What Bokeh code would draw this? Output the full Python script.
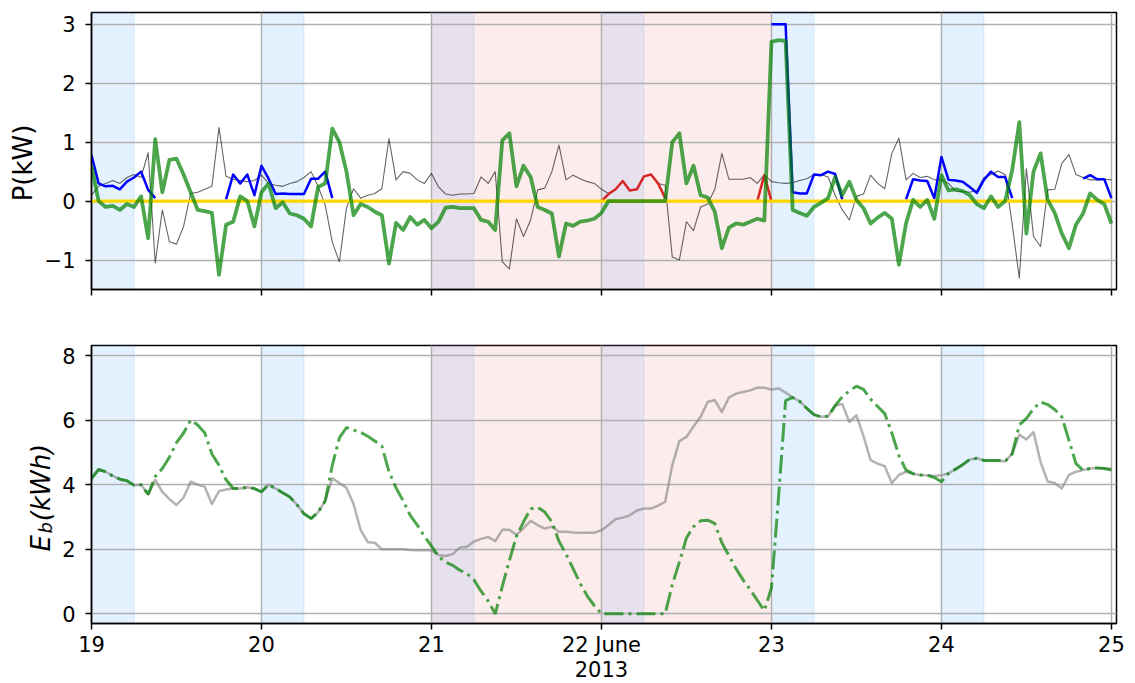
import math
from datetime import datetime, timedelta

from bokeh.plotting import figure
from bokeh.layouts import column, row
from bokeh.models import Range1d, FixedTicker, BoxAnnotation
from bokeh.core.properties import value
from bokeh.embed import file_html
from bokeh.resources import INLINE

nan = float("nan")
START = datetime(2013, 6, 19)
EPOCH = datetime(1970, 1, 1)


def to_ms(dt):
    return (dt - EPOCH).total_seconds() * 1000.0


# ---------------- data (hourly, 19 June 00:00 .. 25 June 00:00) ----------------
times = [START + timedelta(hours=h) for h in range(145)]

# thin dark line: household net load [kW]
load_kw = (
    [0.1, 0.25, 0.3, 0.35, 0.3, 0.4, 0.45, 0.4, 0.82, -1.05, -0.15, -0.69, -0.73, -0.43, 0.13, 0.15, 0.2, 0.25, 1.25, 0.42, 0.37, 0.35, 0.33, 0.35]
    + [0.44, 0.3, 0.27, 0.25, 0.3, 0.33, 0.4, 0.5, 0.25, -0.07, -0.7, -1.03, -0.12, 0.21, 0.05, 0.1, 0.13, 0.21, 1.06, 0.36, 0.5, 0.47, 0.36, 0.3]
    + [0.47, 0.24, 0.12, 0.1, 0.12, 0.12, 0.13, 0.41, 0.3, 0.5, -1.03, -1.15, -0.3, -0.6, -0.32, 0.19, 0.22, 0.5, 0.95, 0.36, 0.44, 0.38, 0.33, 0.3]
    + [0.2, 0.13, 0.2, 0.34, 0.18, 0.2, 0.42, 0.45, 0.3, 0.27, -0.95, -1.0, -0.35, -0.5, -0.1, -0.05, 0.2, 0.81, 0.37, 0.37, 0.37, 0.4, 0.3, 0.45]
    + [0.33, 0.31, 0.3, 0.31, 0.35, 0.38, 0.45, 0.45, 0.41, 0.1, -0.15, -0.32, 0.08, 0.12, 0.44, 0.3, 0.21, 0.81, 1.07, 0.36, 0.47, 0.4, 0.42, 0.36]
    + [0.36, 0.3, 0.17, 0.16, 0.15, 0.18, 0.4, 0.45, 0.51, 0.45, -0.4, -1.31, 0.55, -0.6, -0.77, 0.19, 0.2, 0.64, 0.79, 0.45, 0.4, 0.36, 0.36, 0.37]
    + [0.36]
)

# blue: battery charging power [kW]
charge_kw = (
    [0.78, 0.3, 0.25, 0.26, 0.2, 0.33, 0.4, 0.5, 0.19, 0.05] + [nan] * 9 + [0.03, 0.45, 0.3, 0.45, 0.1]
    + [0.6, 0.38, 0.12, 0.13, 0.12, 0.12, 0.12, 0.38, 0.38, 0.5, 0.05] + [nan] * 13
    + [nan] * 24
    + [nan] * 24
    + [3.0, 3.0, 3.0, 0.15, 0.13, 0.13, 0.45, 0.44, 0.5, 0.46, 0.03] + [nan] * 8 + [0.03, 0.37, 0.35, 0.34, 0.05]
    + [0.75, 0.36, 0.35, 0.33, 0.24, 0.14, 0.36, 0.5, 0.41, 0.41, 0.05] + [nan] * 9 + [0.38, 0.44, 0.37, 0.37]
    + [0.05]
)

# red: battery discharging power [kW]
discharge_kw = (
    [nan] * 72
    + [0.0, 0.12, 0.2, 0.34, 0.18, 0.2, 0.42, 0.45, 0.3, 0.05] + [nan] * 12 + [0.0, 0.44]
    + [0.0] + [nan] * 23
    + [nan] * 24
    + [nan]
)

# green: grid power [kW]
grid_kw = (
    [0.6, 0.0, -0.1, -0.08, -0.15, -0.05, -0.1, 0.08, -0.63, 1.05, 0.15, 0.7, 0.72, 0.45, 0.15, -0.15, -0.17, -0.2, -1.25, -0.4, -0.35, 0.08, 0.0, -0.43]
    + [0.15, 0.3, -0.12, -0.02, -0.21, -0.24, -0.3, -0.43, 0.24, 0.3, 1.23, 1.0, 0.5, -0.24, -0.05, -0.1, -0.18, -0.24, -1.06, -0.37, -0.49, -0.27, -0.4, -0.32]
    + [-0.46, -0.35, -0.11, -0.1, -0.12, -0.12, -0.12, -0.32, -0.35, -0.49, 1.03, 1.15, 0.25, 0.6, 0.41, -0.1, -0.15, -0.21, -0.94, -0.38, -0.42, -0.35, -0.33, -0.3]
    + [-0.2, 0.0, 0.0, 0.0, 0.0, 0.0, 0.0, 0.0, 0.0, 0.0, 1.0, 1.15, 0.3, 0.6, 0.1, 0.06, -0.18, -0.8, -0.45, -0.38, -0.4, -0.35, -0.3, -0.33]
    + [2.7, 2.73, 2.72, -0.15, -0.2, -0.25, -0.1, -0.03, 0.05, 0.41, 0.1, 0.33, 0.02, -0.12, -0.38, -0.28, -0.2, -0.3, -1.08, -0.38, 0.02, -0.1, 0.02, -0.3]
    + [0.44, 0.18, 0.2, 0.17, 0.1, -0.05, -0.12, 0.08, -0.1, 0.0, 0.53, 1.34, -0.55, 0.5, 0.81, 0.02, -0.2, -0.55, -0.8, -0.4, -0.21, 0.13, 0.02, -0.05]
    + [-0.38]
)

# yellow: PV power [kW] (zero during the whole period)
pv_kw = [0.0] * len(times)

# grey: battery energy, reference strategy [kWh]
energy_ref = (
    [4.19, 4.47, 4.4, 4.27, 4.17, 4.12, 3.98, 4.0, 3.7, 4.15, 3.78, 3.55, 3.37, 3.6, 4.09, 4.0, 3.93, 3.4, 3.8, 3.85, 3.88, 3.88, 3.92, 3.88]
    + [3.78, 4.0, 3.88, 3.75, 3.62, 3.38, 3.1, 2.95, 3.15, 3.5, 4.2, 4.05, 3.9, 3.4, 2.6, 2.22, 2.2, 2.0, 2.0, 2.0, 2.0, 1.98, 1.97, 1.97]
    + [1.97, 1.82, 1.79, 1.85, 2.05, 2.08, 2.24, 2.32, 2.38, 2.25, 2.6, 2.6, 2.45, 2.65, 2.88, 2.75, 2.64, 2.7, 2.54, 2.54, 2.52, 2.51, 2.51, 2.51]
    + [2.59, 2.75, 2.93, 2.98, 3.05, 3.2, 3.26, 3.26, 3.35, 3.47, 4.6, 5.35, 5.48, 5.8, 6.1, 6.56, 6.62, 6.25, 6.7, 6.82, 6.87, 6.92, 7.0, 7.0]
    + [6.95, 6.98, 6.85, 6.7, 6.58, 6.36, 6.17, 6.1, 6.12, 6.45, 6.5, 5.94, 6.15, 5.5, 4.76, 4.65, 4.57, 4.05, 4.3, 4.4, 4.34, 4.3, 4.29, 4.27]
    + [4.29, 4.35, 4.48, 4.62, 4.78, 4.82, 4.75, 4.75, 4.75, 4.72, 4.96, 5.55, 5.4, 5.63, 4.7, 4.1, 4.05, 3.88, 4.3, 4.4, 4.45, 4.5, 4.52, 4.5]
    + [4.5]
)

# green dash-dot: battery energy, optimised strategy [kWh]
energy_opt = (
    [4.19, 4.47, 4.4, 4.27, 4.17, 4.12, 3.98, 4.0, 3.7, 4.25, 4.5, 4.85, 5.3, 5.6, 6.0, 5.85, 5.6, 4.95, 4.6, 4.15, 3.88, 3.88, 3.92, 3.88]
    + [3.78, 4.0, 3.88, 3.75, 3.62, 3.38, 3.1, 2.95, 3.15, 3.5, 4.6, 5.45, 5.77, 5.69, 5.62, 5.5, 5.35, 5.2, 4.4, 3.9, 3.5, 3.05, 2.75, 2.4]
    + [2.1, 1.78, 1.6, 1.5, 1.35, 1.25, 1.05, 0.7, 0.4, 0.0, 0.85, 1.65, 2.4, 2.85, 3.25, 3.3, 3.15, 2.85, 2.25, 1.85, 1.4, 0.94, 0.55, 0.25]
    + [0.0, 0.0, 0.0, 0.0, 0.0, 0.0, 0.0, 0.0, 0.0, 0.0, 0.9, 1.6, 2.35, 2.7, 2.88, 2.9, 2.8, 2.2, 1.8, 1.4, 1.05, 0.75, 0.42, 0.1]
    + [0.8, 3.6, 6.6, 6.7, 6.58, 6.36, 6.17, 6.1, 6.12, 6.45, 6.72, 6.9, 7.05, 6.95, 6.65, 6.42, 6.2, 5.6, 4.9, 4.45, 4.34, 4.3, 4.29, 4.22]
    + [4.09, 4.35, 4.48, 4.62, 4.78, 4.82, 4.75, 4.75, 4.75, 4.72, 4.96, 5.85, 6.05, 6.35, 6.56, 6.48, 6.33, 6.1, 5.38, 4.65, 4.45, 4.5, 4.52, 4.5]
    + [4.45]
)

day_ticks = [to_ms(START + timedelta(days=d)) for d in range(7)]
day_labels = ["19", "20", "21", "22 June\n2013", "23", "24", "25"]
night_days = [19, 20, 21, 22, 23, 24]          # off-peak windows 00:00-06:00
night_hours = (0, 6)
peak_period = (datetime(2013, 6, 21), datetime(2013, 6, 23))
p_ticks = [-1, 0, 1, 2, 3]
e_ticks = [0, 2, 4, 6, 8]
P_RANGE = (-1.5, 3.2)
E_RANGE = (-0.3, 8.31)

# ---------------- layout / styling ----------------
FONT = "DejaVu Sans"
X_START = START
X_END = START + timedelta(days=6.03)
FRAME_W = 1025
TOP_H1, FRAME_H1, BOT_H1 = 12, 277, 45      # top panel
H1 = TOP_H1 + FRAME_H1 + BOT_H1
TOP_H2, FRAME_H2, BOT_H2 = 345 - H1, 278, 60  # bottom panel
H2 = TOP_H2 + FRAME_H2 + BOT_H2
LEFT1, LEFT2 = 40, 58                         # widths of the y-label strips


def base_fig(yr, yticks, frame_h, top, bottom, left):
    p = figure(x_axis_type="datetime", title=None, frame_width=FRAME_W, frame_height=frame_h,
               x_range=Range1d(to_ms(X_START), to_ms(X_END)), y_range=Range1d(*yr),
               output_backend="svg", toolbar_location=None,
               min_border_left=91 - left, min_border_right=12,
               min_border_top=top, min_border_bottom=bottom)
    p.outline_line_color = "black"
    p.outline_line_width = 1.5
    p.outline_line_alpha = 1.0
    p.background_fill_color = "white"
    p.border_fill_color = "white"
    p.xaxis.ticker = FixedTicker(ticks=day_ticks, minor_ticks=[])
    p.yaxis.ticker = FixedTicker(ticks=yticks, minor_ticks=[])
    for ax in (p.xaxis[0], p.yaxis[0]):
        ax.axis_line_color = "black"
        ax.axis_line_width = 1.5
        ax.major_tick_line_color = "black"
        ax.major_tick_line_width = 1.5
        ax.major_tick_out = 6
        ax.major_tick_in = 0
        ax.minor_tick_line_color = None
        ax.major_label_text_font = FONT
        ax.major_label_text_font_size = "21px"
        ax.major_label_text_color = "black"
    p.yaxis.major_label_standoff = 10
    p.xaxis.major_label_standoff = 3
    p.xaxis.major_label_text_line_height = 1.05
    p.yaxis.major_label_overrides = {t: str(t).replace("-", "\u2212") for t in yticks}
    for g in (p.xgrid[0], p.ygrid[0]):
        g.grid_line_color = "#b0b0b0"
        g.grid_line_width = 1.5
    for d in night_days:
        p.add_layout(BoxAnnotation(
            left=to_ms(datetime(2013, 6, d, night_hours[0])),
            right=to_ms(datetime(2013, 6, d, night_hours[1])),
            fill_color="#1e90ff", fill_alpha=0.12,
            line_color="#1e90ff", line_alpha=0.15, line_width=1, level="image"))
    p.add_layout(BoxAnnotation(
        left=to_ms(peak_period[0]), right=to_ms(peak_period[1]),
        fill_color="#f08080", fill_alpha=0.15,
        line_color="#f08080", line_alpha=0.2, line_width=1, level="image"))
    return p


def label_strip(w, h):
    f = figure(frame_width=w, frame_height=h, x_range=Range1d(0, w), y_range=Range1d(h, 0),
               output_backend="svg", toolbar_location=None, title=None, min_border=0,
               x_axis_location=None, y_axis_location=None)
    f.grid.visible = False
    f.outline_line_color = None
    f.background_fill_color = "white"
    f.border_fill_color = "white"
    return f


# ---------------- top: power ----------------
p1 = base_fig(P_RANGE, p_ticks, FRAME_H1, TOP_H1, BOT_H1, LEFT1)
p1.xaxis.major_label_overrides = {t: "" for t in day_ticks}

p1.line(times, load_kw, line_color="black", line_alpha=0.6, line_width=1.1, line_join="round")
p1.line(times, charge_kw, line_color="blue", line_width=2.5, line_join="round")
p1.line(times, discharge_kw, line_color="#d62728", line_width=2.5, line_join="round")
p1.line(times, pv_kw, line_color="gold", line_width=3.2)
p1.line(times, grid_kw, line_color="green", line_alpha=0.7, line_width=3.8, line_join="round")

s1 = label_strip(LEFT1, H1)
s1.text(x=[22.5], y=[TOP_H1 + FRAME_H1 / 2], text=["P(kW)"], angle=math.pi / 2,
        text_align="center", text_baseline="middle", text_font=value(FONT),
        text_font_size="26px", text_color="black")

# ---------------- bottom: energy ----------------
p2 = base_fig(E_RANGE, e_ticks, FRAME_H2, TOP_H2, BOT_H2, LEFT2)
p2.xaxis.major_label_overrides = dict(zip(day_ticks, day_labels))

p2.line(times, energy_ref, line_color="grey", line_alpha=0.6, line_width=2.5, line_join="round")
p2.line(times, energy_opt, line_color="green", line_alpha=0.7, line_width=3, line_dash="19 5 3 5")

s2 = label_strip(LEFT2, H2)
mid2 = TOP_H2 + FRAME_H2 / 2
s2.text(x=[40, 40], y=[mid2 + 47.8, mid2 - 13], text=["E", "(kWh)"], angle=math.pi / 2,
        text_align="center", text_baseline="middle", text_font=value(FONT),
        text_font_style="italic", text_font_size="26px", text_color="black")
s2.text(x=[45], y=[mid2 + 32.2], text=["b"], angle=math.pi / 2,
        text_align="center", text_baseline="middle", text_font=value(FONT),
        text_font_style="italic", text_font_size="18px", text_color="black")

layout = column(row(s1, p1), row(s2, p2))
open("out.html", "w").write(file_html(layout, INLINE))
